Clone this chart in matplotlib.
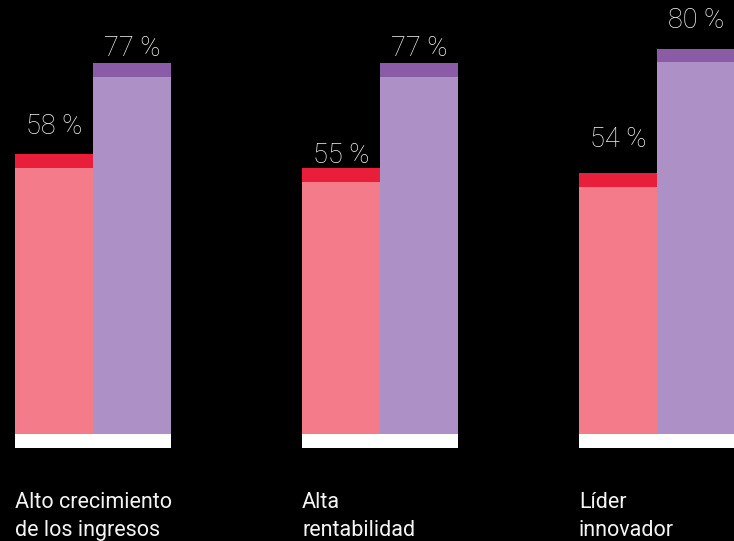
import matplotlib
matplotlib.use("Agg")
import matplotlib.pyplot as plt

categories = ["Alto crecimiento\nde los ingresos", "Alta\nrentabilidad", "Líder\ninnovador"]
series_a = [58, 55, 54]
series_b = [77, 77, 80]
labels_a = ["58 %", "55 %", "54 %"]
labels_b = ["77 %", "77 %", "80 %"]

# layout (pixel-like x units)
group_mid = [93, 380, 657]
bw = 78
cap = 2.9
label_off_a = [30, 16, 36]   # px above bar top (label centre)
label_off_b = [17, 17, 31.5]
scale = 4.78                 # px per unit
line_baselines = [508, 536]  # px from top

light_a, dark_a = "#F37B8A", "#E81E3A"
light_b, dark_b = "#AD90C5", "#8A5CA8"
text_color = "#F4F4F4"

W, H = 734, 541
fig = plt.figure(figsize=(W / 100, H / 100), dpi=100, facecolor="black")
ax = fig.add_axes([0, 0, 1, 1])
ax.set_facecolor("black")
base_px = 431
ax.set_xlim(0, W)
ax.set_ylim((base_px - H) / scale, base_px / scale)
ax.axis("off")

font = ["Roboto", "DejaVu Sans"]
for i, cat in enumerate(categories):
    xa = group_mid[i] - bw / 2
    xb = group_mid[i] + bw / 2
    va, vb = series_a[i], series_b[i]
    bottom = -1.0
    ax.bar(xa, va - cap - bottom, bottom=bottom, width=bw, color=light_a, linewidth=0)
    ax.bar(xa, cap, bottom=va - cap, width=bw, color=dark_a, linewidth=0)
    ax.bar(xb, vb - cap - bottom, bottom=bottom, width=bw, color=light_b, linewidth=0)
    ax.bar(xb, cap, bottom=vb - cap, width=bw, color=dark_b, linewidth=0)
    # white base
    ax.bar(group_mid[i], 14 / scale, bottom=-3 / scale - 14 / scale, width=2 * bw,
           color="white", linewidth=0)
    ax.text(xa, va + label_off_a[i] / scale, labels_a[i], ha="center", va="center_baseline",
            color=text_color, fontsize=19.5, family=font, fontweight="light")
    ax.text(xb, vb + label_off_b[i] / scale, labels_b[i], ha="center", va="center_baseline",
            color=text_color, fontsize=19.5, family=font, fontweight="light")
    for j, line in enumerate(cat.split("\n")):
        ax.text(group_mid[i] - bw, (base_px - line_baselines[j]) / scale, line,
                ha="left", va="baseline", color=text_color, fontsize=15.5, family=font)

fig.savefig("out.png", dpi=100, facecolor="black")
